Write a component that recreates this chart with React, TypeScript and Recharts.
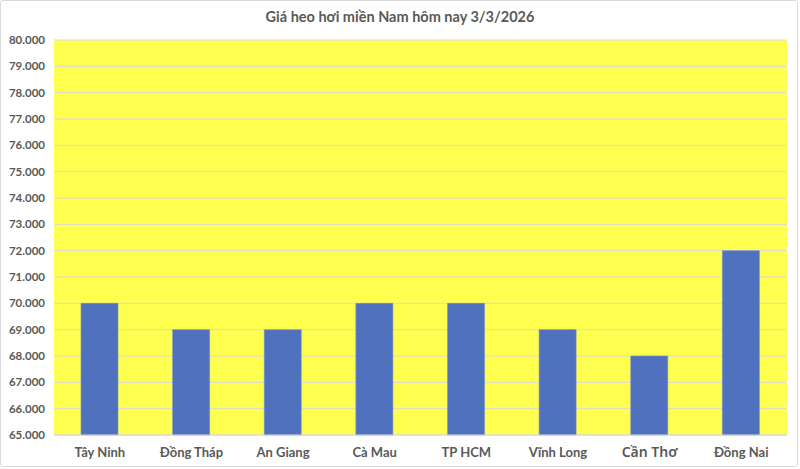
import { BarChart, Bar, XAxis, YAxis, CartesianGrid } from "recharts";

const provinces = [
  "Tây Ninh",
  "Đồng Tháp",
  "An Giang",
  "Cà Mau",
  "TP HCM",
  "Vĩnh Long",
  "Cần Thơ",
  "Đồng Nai",
];
const prices = [70000, 69000, 69000, 70000, 70000, 69000, 68000, 72000];
const yTicks = [
  65000, 66000, 67000, 68000, 69000, 70000, 71000, 72000, 73000, 74000, 75000,
  76000, 77000, 78000, 79000, 80000,
];

const FONT = "Lato, 'Open Sans', sans-serif";
const fmt = (v: number) => v.toLocaleString("de-DE", { minimumFractionDigits: 3 }).replace(",000", "");

const data = provinces.map((name, i) => ({ name, price: prices[i] }));

// Custom tick so "Cần Thơ" keeps its odd, larger font like in the source
function XTick(props: any) {
  const { x, y, payload } = props;
  const odd = payload.value === "Cần Thơ";
  return (
    <text
      x={x}
      y={y + 14}
      textAnchor="middle"
      fill="#595959"
      fontFamily={odd ? "'Noto Sans', sans-serif" : FONT}
      fontWeight={odd ? 600 : 700}
      fontSize={odd ? 14 : 13}
    >
      {payload.value}
    </text>
  );
}

export default function App() {
  return (
    <div
      style={{
        position: "absolute",
        left: 0,
        top: 0,
        width: 800,
        height: 469,
        background: "#fff",
      }}
    >
      <div
        style={{
          position: "absolute",
          left: 0,
          top: 0,
          width: 796,
          height: 465,
          border: "1px solid #d9d9d9",
          borderRadius: 3,
        }}
      />
      <div
        style={{
          position: "absolute",
          top: 8,
          width: 800,
          textAlign: "center",
          fontFamily: FONT,
          fontWeight: 700,
          fontSize: 14.5,
          color: "#595959",
        }}
      >
        Giá heo hơi miền Nam hôm nay 3/3/2026
      </div>
      <BarChart
        width={800}
        height={469}
        data={data}
        margin={{ top: 40, right: 13, bottom: 0, left: 0 }}
        barCategoryGap="30%"
      >
        <CartesianGrid
          vertical={false}
          stroke="#d9d9d9"
          fill="#ffff4f"
          fillOpacity={1}
        />
        <XAxis
          dataKey="name"
          height={34}
          tickLine={false}
          axisLine={{ stroke: "#d9d9d9" }}
          tick={<XTick />}
          interval={0}
        />
        <YAxis
          width={54}
          domain={[65000, 80000]}
          ticks={yTicks}
          tickFormatter={fmt}
          tickLine={false}
          axisLine={false}
          tick={{ fill: "#595959", fontSize: 11.5, fontWeight: 700, fontFamily: FONT }}
          tickMargin={3}
          interval={0}
        />
        <Bar
          dataKey="price"
          fill="#4f71be"
          stroke="#6e8fd4"
          strokeWidth={0.6}
          barSize={37}
          isAnimationActive={false}
        />
      </BarChart>
    </div>
  );
}
